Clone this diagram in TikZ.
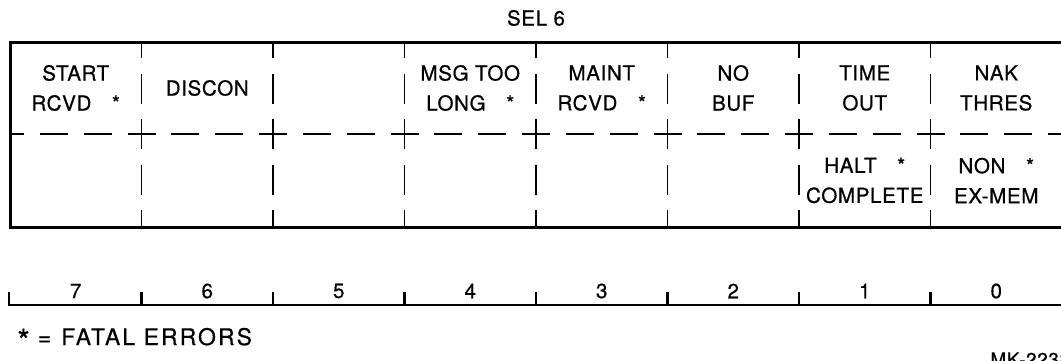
\documentclass[tikz,border=0pt]{standalone}
\usepackage{fontspec}
\setmainfont{TeX Gyre Heros}[LetterSpace=3,FakeBold=0.6]
\begin{document}
\begin{tikzpicture}[x=0.5pt,y=0.5pt,
    bordo/.style={line width=1.5pt},
    tratto/.style={line width=0.8pt, dash pattern=on 14pt off 7.92pt, dash phase=7pt},
    trattov/.style={line width=0.8pt, dash pattern=on 15pt off 7.75pt, dash phase=7.5pt},
    scala/.style={line width=1.1pt},
    campo/.style={align=center, inner sep=0pt, font=\fontsize{10.3}{15}\selectfont}]
        \useasboundingbox (0,0) rectangle (1061,360);
        \clip (0,0) rectangle (1061,360);
        % Riquadro
        \draw[bordo] (10,133) rectangle (1066,318);
        \node[campo] (titolo) at (536,342) {SEL 6};
        % Linee tratteggiate
        \draw[tratto] (10,226) -- (1066,226);
        \draw[trattov] (141.5,226) -- (141.5,318) (141.5,226) -- (141.5,133);
        \draw[trattov] (273,226) -- (273,318) (273,226) -- (273,133);
        \draw[trattov] (404.5,226) -- (404.5,318) (404.5,226) -- (404.5,133);
        \draw[trattov] (536,226) -- (536,318) (536,226) -- (536,133);
        \draw[trattov] (667.5,226) -- (667.5,318) (667.5,226) -- (667.5,133);
        \draw[trattov] (799,226) -- (799,318) (799,226) -- (799,133);
        \draw[trattov] (930.5,226) -- (930.5,318) (930.5,226) -- (930.5,133);
        % Campi
        \node[campo] (startrcvd) at (75.75,272) {START\\RCVD\quad*};
        \node[campo] (discon) at (207.25,272) {DISCON};
        \node[campo] (msgtoolong) at (470.25,272) {MSG TOO\\LONG\quad*};
        \node[campo] (maintrcvd) at (601.75,272) {MAINT\\RCVD\quad*};
        \node[campo] (nobuf) at (733.25,272) {NO\\BUF};
        \node[campo] (timeout) at (864.75,272) {TIME\\OUT};
        \node[campo] (nakthres) at (996.25,272) {NAK\\THRES};
        \node[campo] (haltcomplete) at (864.75,179.5) {HALT\quad*\\COMPLETE};
        \node[campo] (nonexmem) at (996.25,179.5) {NON\quad*\\EX-MEM};
        % Numeri dei bit
        \draw[scala] (9,68) -- (9,55) -- (1066,55);
        \draw[scala] (141.5,55) -- (141.5,68);
        \draw[scala] (273,55) -- (273,68);
        \draw[scala] (404.5,55) -- (404.5,68);
        \draw[scala] (536,55) -- (536,68);
        \draw[scala] (667.5,55) -- (667.5,68);
        \draw[scala] (799,55) -- (799,68);
        \draw[scala] (930.5,55) -- (930.5,68);
        \node[campo] (n7) at (75.75,69) {7};
        \node[campo] (n6) at (207.25,69) {6};
        \node[campo] (n5) at (338.75,69) {5};
        \node[campo] (n4) at (470.25,69) {4};
        \node[campo] (n3) at (601.75,69) {3};
        \node[campo] (n2) at (733.25,69) {2};
        \node[campo] (n1) at (864.75,69) {1};
        \node[campo] (n0) at (996.25,69) {0};
        % Legenda
        \node[campo, anchor=west, font=\fontsize{11.5}{12}\selectfont] (legenda) at (17,20) {\raisebox{-3.5pt}{\fontsize{16}{16}\selectfont *}\hspace{4pt}=\hspace{5pt}\addfontfeatures{LetterSpace=9}FATAL ERRORS};
        \node[campo, anchor=north west, font=\fontsize{9.5}{10}\selectfont] (codice) at (990,8) {MK-2238};
    \end{tikzpicture}
\end{document}
